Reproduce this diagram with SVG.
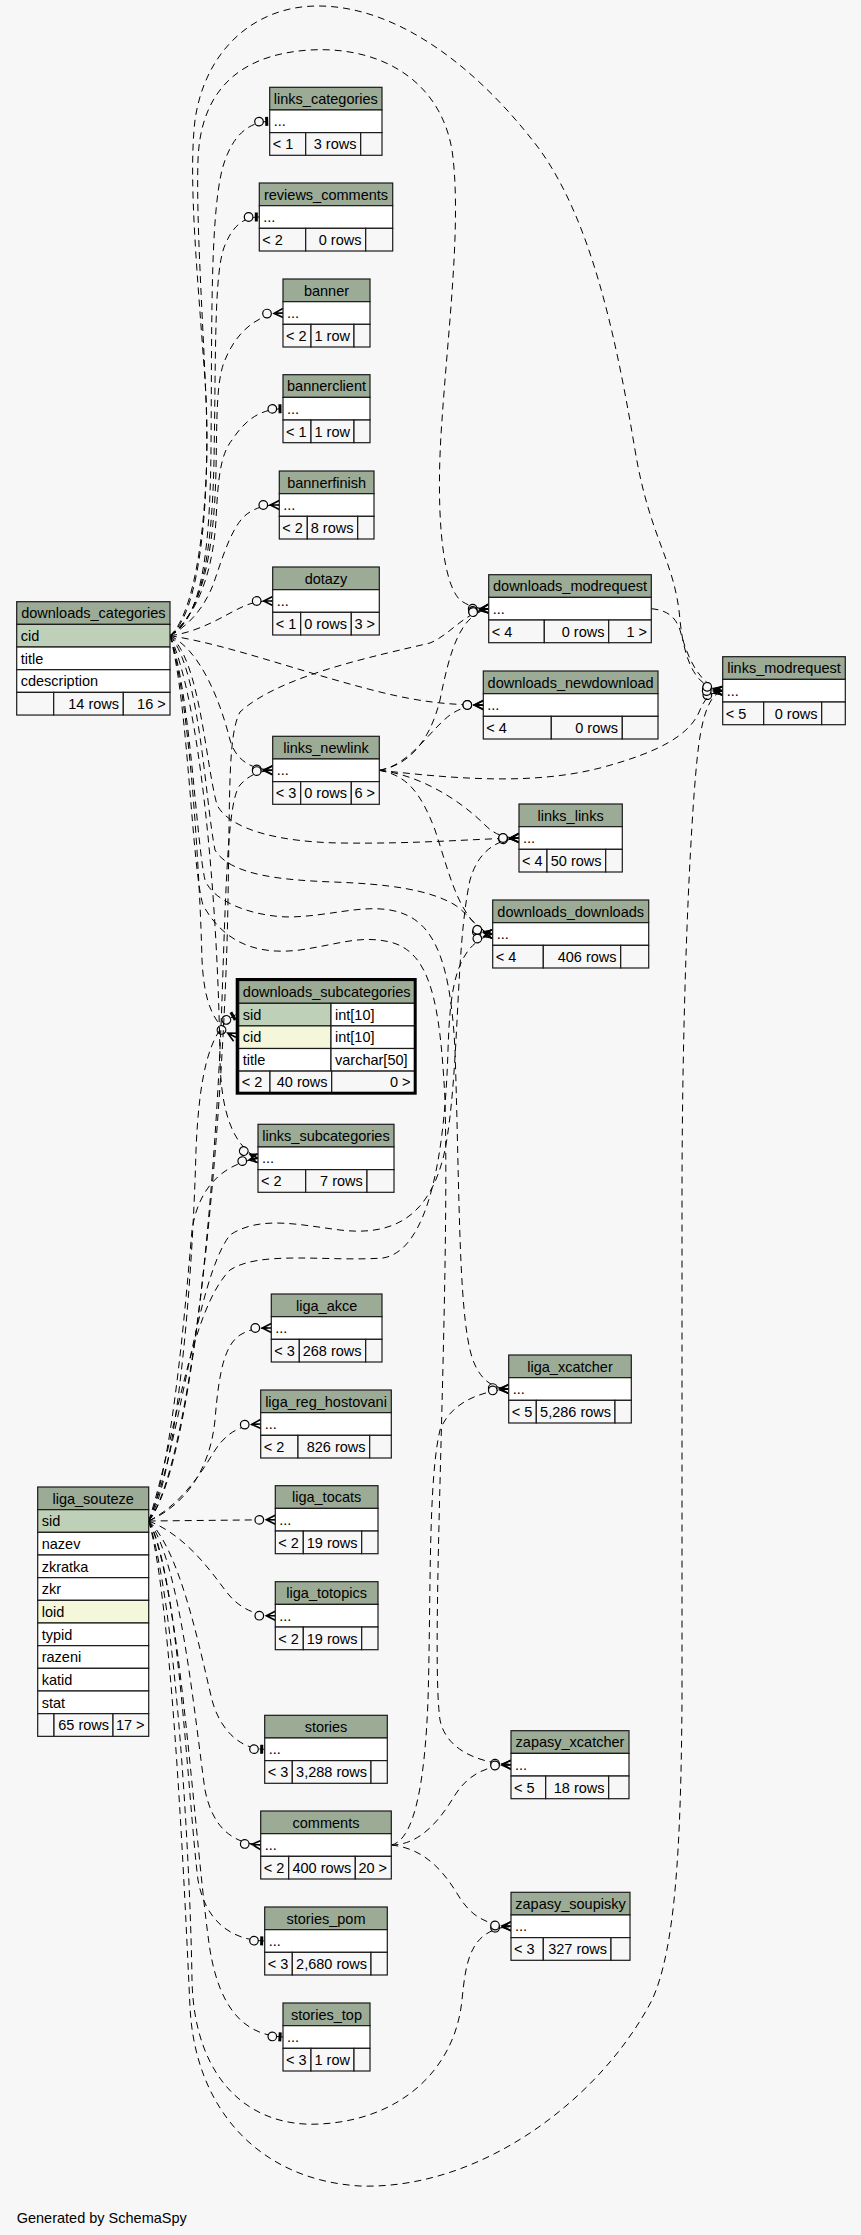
<svg xmlns="http://www.w3.org/2000/svg" width="861" height="2235" viewBox="0 0 861 2235">
<style>
text{font-family:"Liberation Sans",Arial,Helvetica,sans-serif;font-size:14.5px;fill:#000}
.m{text-anchor:middle}.e{text-anchor:end}
.h{fill:#9bab96;stroke:#1a1a1a;stroke-width:1.2}
.r{fill:#fff;stroke:#1a1a1a;stroke-width:1.2}
.k{fill:#bed1b8;stroke:#1a1a1a;stroke-width:1.2}
.fk{fill:#f4f7da;stroke:#1a1a1a;stroke-width:1.2}
.ft{fill:#f7f7f7;stroke:#1a1a1a;stroke-width:1.2}
.ed{fill:none;stroke:#000;stroke-width:1;stroke-dasharray:7,5}
.cr{marker-end:url(#crow)}.te{marker-end:url(#tee)}
</style>
<defs>
<marker id="crow" markerUnits="userSpaceOnUse" viewBox="-22 -7 23 14" refX="0" refY="0" markerWidth="23" markerHeight="14" orient="auto">
<circle cx="-16" cy="0" r="4.3" fill="#f7f7f7" stroke="#000" stroke-width="1.2"/>
<path d="M0,-4.5 L-9,0 L0,4.5 M-9,0 H0" fill="none" stroke="#000" stroke-width="1.6"/>
</marker>
<marker id="tee" markerUnits="userSpaceOnUse" viewBox="-16 -7 17 14" refX="0" refY="0" markerWidth="17" markerHeight="14" orient="auto">
<circle cx="-10.7" cy="0" r="4.3" fill="#f7f7f7" stroke="#000" stroke-width="1.2"/>
<rect x="-4.5" y="-4.5" width="3" height="9" fill="#000"/>
</marker>
</defs>
<rect width="861" height="2235" fill="#f7f7f7"/>

<g id="edges">
<!-- from downloads_categories.cid -->
<path class="ed te" d="M170,635.7 C200,620 210,560 211,450 C212,330 210,220 222,170 C230,140 245,122 269.7,121.3"/>
<path class="ed te" d="M170,635.7 C200,618 212,560 214,460 C216,350 214,270 225,245 C232,228 242,217 259.3,217"/>
<path class="ed cr" d="M170,635.7 C200,615 214,560 216,470 C217,420 216,380 225,360 C235,335 255,314 283,313"/>
<path class="ed te" d="M170,635.7 C198,615 213,570 216,520 C218,480 220,455 232,440 C245,420 260,409 283,408.7"/>
<path class="ed cr" d="M170,635.7 C195,622 207,600 213,585 C222,560 232,522 250,512 C258,507 266,505 279.3,505"/>
<path class="ed cr" d="M170,635.7 C200,632 225,615 240,608 C250,603 258,601 272.7,601"/>
<path class="ed cr" d="M170,635.7 C200,615 210,500 206,400 C203,320 196,220 198,160 C200,100 230,55 310,50 C380,46 440,80 452,150 C462,220 448,330 442,420 C436,500 440,580 460,600 C470,607 478,608.7 488.7,608.7"/>
<path class="ed cr" d="M170,635.7 C200,610 212,480 205,380 C198,280 188,180 195,120 C205,50 255,5 320,6 C400,7 480,70 540,150 C590,220 615,330 635,450 C650,540 675,560 680,620 C684,660 695,688 722.7,690.7"/>
<path class="ed cr" d="M170,635.7 C230,645 300,672 380,692 C420,702 450,705 483.3,705"/>
<path class="ed cr" d="M170,635.7 C200,650 220,700 230,740 C236,760 250,769 272.7,770.3"/>
<path class="ed cr" d="M170,635.7 C200,660 205,760 217,805 C230,830 280,842 340,843 C420,844 470,839 519,838"/>
<path class="ed cr" d="M170,635.7 C200,670 205,800 215,850 C230,875 280,880 333,882 C390,884 430,890 455,905 C470,915 478,932 492.7,934"/>
<path class="ed cr" d="M170,635.7 C190,690 196,840 205,880 C215,905 260,917 290,917 C330,916 360,905 390,910 C430,917 450,950 455,1050 C460,1200 458,1330 475,1365 C482,1380 492,1388 508.7,1389"/>
<path class="ed cr" d="M170,635.7 C188,700 192,870 203,905 C225,945 260,955 300,950 C340,944 360,935 390,942 C430,952 440,1000 445,1100 C450,1300 430,1650 440,1720 C445,1745 470,1762 511,1764.7"/>
<path class="ed cr" d="M170,635.7 C190,700 200,880 202,960 C204,1000 212,1025 235.7,1037.3"/>
<path class="ed cr" d="M170,635.7 C200,700 218,900 220,1060 C221,1110 232,1145 258,1158.3"/>
<!-- from liga_souteze.sid -->
<path class="ed cr" d="M148.7,1521 C185,1505 210,1470 215,1420 C219,1370 225,1345 240,1335 C250,1329 258,1328 271.3,1328"/>
<path class="ed cr" d="M148.7,1521 C180,1505 200,1475 212,1455 C222,1438 235,1425 260.7,1424"/>
<path class="ed cr" d="M148.7,1521 L275.3,1519.7"/>
<path class="ed cr" d="M148.7,1521 C185,1535 210,1570 225,1590 C238,1608 255,1615.7 275.3,1615.7"/>
<path class="ed te" d="M148.7,1521 C180,1550 200,1650 212,1700 C220,1730 240,1749 264.7,1749.3"/>
<path class="ed cr" d="M148.7,1521 C180,1560 195,1720 205,1790 C212,1825 230,1843 260.7,1845"/>
<path class="ed te" d="M148.7,1521 C178,1570 188,1800 198,1880 C205,1920 230,1940 264.7,1941"/>
<path class="ed te" d="M148.7,1521 C180,1580 195,1850 210,1950 C220,2010 245,2035 283,2037"/>
<path class="ed te" d="M148.7,1521 C175,1480 192,1300 196,1150 C199,1080 208,1030 235.7,1014.7"/>
<path class="ed cr" d="M148.7,1521 C172,1470 186,1300 192,1230 C198,1190 220,1165 258,1158.3"/>
<path class="ed cr" d="M148.7,1521 C190,1470 215,1200 222,1000 C226,880 228,800 240,785 C248,776 258,771 272.7,770.3"/>
<path class="ed cr" d="M148.7,1521 C195,1460 225,1100 228,900 C230,790 228,735 240,712 C280,675 380,655 430,643 C450,635 465,612 488.7,608.7"/>
<path class="ed cr" d="M148.7,1521 C180,1450 195,1280 230,1235 C260,1215 300,1225 340,1230 C390,1236 430,1220 445,1150 C460,1070 455,950 470,880 C478,852 495,840 519,838"/>
<path class="ed cr" d="M148.7,1521 C175,1440 190,1310 230,1270 C260,1250 330,1262 383,1258 C430,1250 445,1150 448,1050 C450,990 455,945 492.7,934"/>
<path class="ed cr" d="M148.7,1521 C175,1600 190,1850 192,1980 C194,2080 250,2128 320,2124 C400,2120 455,2070 462,2000 C466,1960 470,1930 511,1926.3"/>
<path class="ed cr" d="M148.7,1521 C172,1600 185,1900 190,2007 C195,2110 260,2180 360,2186 C480,2190 600,2100 652,2000 C675,1950 681,1850 682,1700 L682,1200 C682,1000 690,830 697,760 C701,720 708,695 722.7,690.7"/>
<!-- from links_newlink -->
<path class="ed cr" d="M379.3,770.3 C410,765 430,740 440,700 C450,650 460,615 488.7,608.7"/>
<path class="ed cr" d="M379.3,770.3 C410,765 430,730 450,715 C460,708 470,705 483.3,705"/>
<path class="ed cr" d="M379.3,770.3 C450,778 530,786 600,768 C660,752 690,735 700,710 C705,698 712,691 722.7,690.7"/>
<path class="ed cr" d="M379.3,770.3 C420,775 460,800 485,825 C495,835 505,838 519,838"/>
<path class="ed cr" d="M379.3,770.3 C405,775 420,790 435,830 C450,875 460,925 492.7,934"/>
<!-- from downloads_modrequest -->
<path class="ed cr" d="M651.3,608.7 C665,610 675,615 680,630 C688,660 700,685 722.7,690.7"/>
<!-- from comments -->
<path class="ed cr" d="M391.3,1845 C420,1845 440,1820 455,1795 C468,1775 485,1766 511,1764.7"/>
<path class="ed cr" d="M391.3,1845 C420,1848 440,1865 458,1895 C470,1915 485,1925 511,1926.3"/>
<path class="ed cr" d="M391.3,1845 C415,1840 425,1780 428,1700 C431,1600 428,1480 440,1430 C450,1405 475,1392 508.7,1389"/>
</g>

<g id="links_categories">
<rect class="h" x="269.7" y="87.3" width="112.3" height="22.67"/><text class="m" x="325.85" y="103.8">links_categories</text>
<rect class="r" x="269.7" y="109.97" width="112.3" height="22.67"/><text x="273.7" y="126.47">...</text>
<rect class="ft" x="269.7" y="132.63" width="36" height="22.67"/><rect class="ft" x="305.7" y="132.63" width="55" height="22.67"/><rect class="ft" x="360.7" y="132.63" width="21.3" height="22.67"/>
<text x="272.7" y="149.13">&lt; 1</text><text class="e" x="356.5" y="149.13">3 rows</text>
</g>
<g id="reviews_comments">
<rect class="h" x="259.3" y="183" width="133.4" height="22.67"/><text class="m" x="326" y="199.5">reviews_comments</text>
<rect class="r" x="259.3" y="205.67" width="133.4" height="22.67"/><text x="263.3" y="222.17">...</text>
<rect class="ft" x="259.3" y="228.33" width="46.4" height="22.67"/><rect class="ft" x="305.7" y="228.33" width="60" height="22.67"/><rect class="ft" x="365.7" y="228.33" width="27" height="22.67"/>
<text x="262.3" y="244.83">&lt; 2</text><text class="e" x="361.5" y="244.83">0 rows</text>
</g>
<g id="banner">
<rect class="h" x="283" y="279" width="87" height="22.67"/><text class="m" x="326.5" y="295.5">banner</text>
<rect class="r" x="283" y="301.67" width="87" height="22.67"/><text x="287" y="318.17">...</text>
<rect class="ft" x="283" y="324.33" width="28" height="22.67"/><rect class="ft" x="311" y="324.33" width="43" height="22.67"/><rect class="ft" x="354" y="324.33" width="16" height="22.67"/>
<text x="286" y="340.83">&lt; 2</text><text class="e" x="350" y="340.83">1 row</text>
</g>
<g id="bannerclient">
<rect class="h" x="283" y="374.7" width="87" height="22.67"/><text class="m" x="326.5" y="391.2">bannerclient</text>
<rect class="r" x="283" y="397.37" width="87" height="22.67"/><text x="287" y="413.87">...</text>
<rect class="ft" x="283" y="420.03" width="28" height="22.67"/><rect class="ft" x="311" y="420.03" width="43" height="22.67"/><rect class="ft" x="354" y="420.03" width="16" height="22.67"/>
<text x="286" y="436.53">&lt; 1</text><text class="e" x="350" y="436.53">1 row</text>
</g>
<g id="bannerfinish">
<rect class="h" x="279.3" y="471" width="94.7" height="22.67"/><text class="m" x="326.65" y="487.5">bannerfinish</text>
<rect class="r" x="279.3" y="493.67" width="94.7" height="22.67"/><text x="283.3" y="510.17">...</text>
<rect class="ft" x="279.3" y="516.33" width="28" height="22.67"/><rect class="ft" x="307.3" y="516.33" width="50.4" height="22.67"/><rect class="ft" x="357.7" y="516.33" width="16.3" height="22.67"/>
<text x="282.3" y="532.83">&lt; 2</text><text class="e" x="353.5" y="532.83">8 rows</text>
</g>
<g id="dotazy">
<rect class="h" x="272.7" y="567" width="106.6" height="22.67"/><text class="m" x="326" y="583.5">dotazy</text>
<rect class="r" x="272.7" y="589.67" width="106.6" height="22.67"/><text x="276.7" y="606.17">...</text>
<rect class="ft" x="272.7" y="612.33" width="28" height="22.67"/><rect class="ft" x="300.7" y="612.33" width="50.6" height="22.67"/><rect class="ft" x="351.3" y="612.33" width="28" height="22.67"/>
<text x="275.7" y="628.83">&lt; 1</text><text class="e" x="347" y="628.83">0 rows</text><text class="e" x="375" y="628.83">3 &gt;</text>
</g>
<g id="downloads_categories">
<rect class="h" x="16.7" y="601.7" width="153.3" height="22.67"/><text class="m" x="93.35" y="618.2">downloads_categories</text>
<rect class="k" x="16.7" y="624.37" width="153.3" height="22.67"/><text x="20.7" y="640.87">cid</text>
<rect class="r" x="16.7" y="647.03" width="153.3" height="22.67"/><text x="20.7" y="663.53">title</text>
<rect class="r" x="16.7" y="669.7" width="153.3" height="22.67"/><text x="20.7" y="686.2">cdescription</text>
<rect class="ft" x="16.7" y="692.37" width="37" height="22.67"/><rect class="ft" x="53.7" y="692.37" width="69.6" height="22.67"/><rect class="ft" x="123.3" y="692.37" width="46.7" height="22.67"/>
<text class="e" x="119" y="708.87">14 rows</text><text class="e" x="165.7" y="708.87">16 &gt;</text>
</g>
<g id="links_newlink">
<rect class="h" x="272.7" y="736.3" width="106.6" height="22.67"/><text class="m" x="326" y="752.8">links_newlink</text>
<rect class="r" x="272.7" y="758.97" width="106.6" height="22.67"/><text x="276.7" y="775.47">...</text>
<rect class="ft" x="272.7" y="781.63" width="28" height="22.67"/><rect class="ft" x="300.7" y="781.63" width="50.6" height="22.67"/><rect class="ft" x="351.3" y="781.63" width="28" height="22.67"/>
<text x="275.7" y="798.13">&lt; 3</text><text class="e" x="347" y="798.13">0 rows</text><text class="e" x="375" y="798.13">6 &gt;</text>
</g>
<g id="downloads_modrequest">
<rect class="h" x="488.7" y="574.7" width="162.6" height="22.67"/><text class="m" x="570" y="591.2">downloads_modrequest</text>
<rect class="r" x="488.7" y="597.37" width="162.6" height="22.67"/><text x="492.7" y="613.87">...</text>
<rect class="ft" x="488.7" y="620.03" width="55.6" height="22.67"/><rect class="ft" x="544.3" y="620.03" width="64.4" height="22.67"/><rect class="ft" x="608.7" y="620.03" width="42.6" height="22.67"/>
<text x="491.7" y="636.53">&lt; 4</text><text class="e" x="604.5" y="636.53">0 rows</text><text class="e" x="647" y="636.53">1 &gt;</text>
</g>
<g id="downloads_newdownload">
<rect class="h" x="483.3" y="671" width="174.7" height="22.67"/><text class="m" x="570.65" y="687.5">downloads_newdownload</text>
<rect class="r" x="483.3" y="693.67" width="174.7" height="22.67"/><text x="487.3" y="710.17">...</text>
<rect class="ft" x="483.3" y="716.33" width="68" height="22.67"/><rect class="ft" x="551.3" y="716.33" width="71" height="22.67"/><rect class="ft" x="622.3" y="716.33" width="35.7" height="22.67"/>
<text x="486.3" y="732.83">&lt; 4</text><text class="e" x="618" y="732.83">0 rows</text>
</g>
<g id="links_modrequest">
<rect class="h" x="722.7" y="656.7" width="122.6" height="22.67"/><text class="m" x="784" y="673.2">links_modrequest</text>
<rect class="r" x="722.7" y="679.37" width="122.6" height="22.67"/><text x="726.7" y="695.87">...</text>
<rect class="ft" x="722.7" y="702.03" width="41" height="22.67"/><rect class="ft" x="763.7" y="702.03" width="58" height="22.67"/><rect class="ft" x="821.7" y="702.03" width="23.6" height="22.67"/>
<text x="725.7" y="718.53">&lt; 5</text><text class="e" x="817.5" y="718.53">0 rows</text>
</g>
<g id="links_links">
<rect class="h" x="519" y="804" width="103.3" height="22.67"/><text class="m" x="570.65" y="820.5">links_links</text>
<rect class="r" x="519" y="826.67" width="103.3" height="22.67"/><text x="523" y="843.17">...</text>
<rect class="ft" x="519" y="849.33" width="28" height="22.67"/><rect class="ft" x="547" y="849.33" width="58.7" height="22.67"/><rect class="ft" x="605.7" y="849.33" width="16.6" height="22.67"/>
<text x="522" y="865.83">&lt; 4</text><text class="e" x="601.5" y="865.83">50 rows</text>
</g>
<g id="downloads_downloads">
<rect class="h" x="492.7" y="900" width="156" height="22.67"/><text class="m" x="570.7" y="916.5">downloads_downloads</text>
<rect class="r" x="492.7" y="922.67" width="156" height="22.67"/><text x="496.7" y="939.17">...</text>
<rect class="ft" x="492.7" y="945.33" width="50.6" height="22.67"/><rect class="ft" x="543.3" y="945.33" width="77.4" height="22.67"/><rect class="ft" x="620.7" y="945.33" width="28" height="22.67"/>
<text x="495.7" y="961.83">&lt; 4</text><text class="e" x="616.5" y="961.83">406 rows</text>
</g>
<g id="downloads_subcategories">
<rect class="h" x="238.7" y="980.5" width="176" height="22.8"/><text class="m" x="326.7" y="997">downloads_subcategories</text>
<rect class="k" x="238.7" y="1003.3" width="92.3" height="22.6"/><rect class="r" x="331" y="1003.3" width="83.7" height="22.6"/>
<text x="242.7" y="1019.8">sid</text><text x="335" y="1019.8">int[10]</text>
<rect class="fk" x="238.7" y="1025.9" width="92.3" height="22.6"/><rect class="r" x="331" y="1025.9" width="83.7" height="22.6"/>
<text x="242.7" y="1042.4">cid</text><text x="335" y="1042.4">int[10]</text>
<rect class="r" x="238.7" y="1048.5" width="92.3" height="22.6"/><rect class="r" x="331" y="1048.5" width="83.7" height="22.6"/>
<text x="242.7" y="1065">title</text><text x="335" y="1065">varchar[50]</text>
<rect class="ft" x="238.7" y="1071.1" width="31.3" height="22.1"/><rect class="ft" x="270" y="1071.1" width="61.7" height="22.1"/><rect class="ft" x="331.7" y="1071.1" width="83" height="22.1"/>
<text x="241.7" y="1087.4">&lt; 2</text><text class="e" x="327.5" y="1087.4">40 rows</text><text class="e" x="410.5" y="1087.4">0 &gt;</text>
<rect x="237.2" y="979.5" width="178" height="113.7" fill="none" stroke="#000" stroke-width="3"/>
</g>
<g id="links_subcategories">
<rect class="h" x="258" y="1124.3" width="136" height="22.67"/><text class="m" x="326" y="1140.8">links_subcategories</text>
<rect class="r" x="258" y="1146.97" width="136" height="22.67"/><text x="262" y="1163.47">...</text>
<rect class="ft" x="258" y="1169.63" width="47.7" height="22.67"/><rect class="ft" x="305.7" y="1169.63" width="61.3" height="22.67"/><rect class="ft" x="367" y="1169.63" width="27" height="22.67"/>
<text x="261" y="1186.13">&lt; 2</text><text class="e" x="362.8" y="1186.13">7 rows</text>
</g>
<g id="liga_akce">
<rect class="h" x="271.3" y="1294" width="110.7" height="22.67"/><text class="m" x="326.65" y="1310.5">liga_akce</text>
<rect class="r" x="271.3" y="1316.67" width="110.7" height="22.67"/><text x="275.3" y="1333.17">...</text>
<rect class="ft" x="271.3" y="1339.33" width="28" height="22.67"/><rect class="ft" x="299.3" y="1339.33" width="66.4" height="22.67"/><rect class="ft" x="365.7" y="1339.33" width="16.3" height="22.67"/>
<text x="274.3" y="1355.83">&lt; 3</text><text class="e" x="361.5" y="1355.83">268 rows</text>
</g>
<g id="liga_reg_hostovani">
<rect class="h" x="260.7" y="1390" width="130.6" height="22.67"/><text class="m" x="326" y="1406.5">liga_reg_hostovani</text>
<rect class="r" x="260.7" y="1412.67" width="130.6" height="22.67"/><text x="264.7" y="1429.17">...</text>
<rect class="ft" x="260.7" y="1435.33" width="37.3" height="22.67"/><rect class="ft" x="298" y="1435.33" width="71.7" height="22.67"/><rect class="ft" x="369.7" y="1435.33" width="21.6" height="22.67"/>
<text x="263.7" y="1451.83">&lt; 2</text><text class="e" x="365.5" y="1451.83">826 rows</text>
</g>
<g id="liga_souteze">
<rect class="h" x="37.7" y="1487" width="111" height="22.67"/><text class="m" x="93.2" y="1503.5">liga_souteze</text>
<rect class="k" x="37.7" y="1509.67" width="111" height="22.67"/><text x="41.7" y="1526.17">sid</text>
<rect class="r" x="37.7" y="1532.33" width="111" height="22.67"/><text x="41.7" y="1548.83">nazev</text>
<rect class="r" x="37.7" y="1555" width="111" height="22.67"/><text x="41.7" y="1571.5">zkratka</text>
<rect class="r" x="37.7" y="1577.67" width="111" height="22.67"/><text x="41.7" y="1594.17">zkr</text>
<rect class="fk" x="37.7" y="1600.33" width="111" height="22.67"/><text x="41.7" y="1616.83">loid</text>
<rect class="r" x="37.7" y="1623" width="111" height="22.67"/><text x="41.7" y="1639.5">typid</text>
<rect class="r" x="37.7" y="1645.67" width="111" height="22.67"/><text x="41.7" y="1662.17">razeni</text>
<rect class="r" x="37.7" y="1668.33" width="111" height="22.67"/><text x="41.7" y="1684.83">katid</text>
<rect class="r" x="37.7" y="1691" width="111" height="22.67"/><text x="41.7" y="1707.5">stat</text>
<rect class="ft" x="37.7" y="1713.67" width="16.3" height="22.67"/><rect class="ft" x="54" y="1713.67" width="59" height="22.67"/><rect class="ft" x="113" y="1713.67" width="35.7" height="22.67"/>
<text class="e" x="109" y="1730.17">65 rows</text><text class="e" x="144.5" y="1730.17">17 &gt;</text>
</g>
<g id="liga_tocats">
<rect class="h" x="275.3" y="1485.7" width="102.7" height="22.67"/><text class="m" x="326.65" y="1502.2">liga_tocats</text>
<rect class="r" x="275.3" y="1508.37" width="102.7" height="22.67"/><text x="279.3" y="1524.87">...</text>
<rect class="ft" x="275.3" y="1531.03" width="28" height="22.67"/><rect class="ft" x="303.3" y="1531.03" width="58.4" height="22.67"/><rect class="ft" x="361.7" y="1531.03" width="16.3" height="22.67"/>
<text x="278.3" y="1547.53">&lt; 2</text><text class="e" x="357.5" y="1547.53">19 rows</text>
</g>
<g id="liga_totopics">
<rect class="h" x="275.3" y="1581.7" width="102.7" height="22.67"/><text class="m" x="326.65" y="1598.2">liga_totopics</text>
<rect class="r" x="275.3" y="1604.37" width="102.7" height="22.67"/><text x="279.3" y="1620.87">...</text>
<rect class="ft" x="275.3" y="1627.03" width="28" height="22.67"/><rect class="ft" x="303.3" y="1627.03" width="58.4" height="22.67"/><rect class="ft" x="361.7" y="1627.03" width="16.3" height="22.67"/>
<text x="278.3" y="1643.53">&lt; 2</text><text class="e" x="357.5" y="1643.53">19 rows</text>
</g>
<g id="liga_xcatcher">
<rect class="h" x="508.7" y="1355" width="122.6" height="22.67"/><text class="m" x="570" y="1371.5">liga_xcatcher</text>
<rect class="r" x="508.7" y="1377.67" width="122.6" height="22.67"/><text x="512.7" y="1394.17">...</text>
<rect class="ft" x="508.7" y="1400.33" width="27.6" height="22.67"/><rect class="ft" x="536.3" y="1400.33" width="78.7" height="22.67"/><rect class="ft" x="615" y="1400.33" width="16.3" height="22.67"/>
<text x="511.7" y="1416.83">&lt; 5</text><text class="e" x="611" y="1416.83">5,286 rows</text>
</g>
<g id="stories">
<rect class="h" x="264.7" y="1715.3" width="122.6" height="22.67"/><text class="m" x="326" y="1731.8">stories</text>
<rect class="r" x="264.7" y="1737.97" width="122.6" height="22.67"/><text x="268.7" y="1754.47">...</text>
<rect class="ft" x="264.7" y="1760.63" width="27.6" height="22.67"/><rect class="ft" x="292.3" y="1760.63" width="78.7" height="22.67"/><rect class="ft" x="371" y="1760.63" width="16.3" height="22.67"/>
<text x="267.7" y="1777.13">&lt; 3</text><text class="e" x="367" y="1777.13">3,288 rows</text>
</g>
<g id="comments">
<rect class="h" x="260.7" y="1811" width="130.6" height="22.67"/><text class="m" x="326" y="1827.5">comments</text>
<rect class="r" x="260.7" y="1833.67" width="130.6" height="22.67"/><text x="264.7" y="1850.17">...</text>
<rect class="ft" x="260.7" y="1856.33" width="28" height="22.67"/><rect class="ft" x="288.7" y="1856.33" width="66.6" height="22.67"/><rect class="ft" x="355.3" y="1856.33" width="36" height="22.67"/>
<text x="263.7" y="1872.83">&lt; 2</text><text class="e" x="351.3" y="1872.83">400 rows</text><text class="e" x="387" y="1872.83">20 &gt;</text>
</g>
<g id="stories_pom">
<rect class="h" x="264.7" y="1907" width="122.6" height="22.67"/><text class="m" x="326" y="1923.5">stories_pom</text>
<rect class="r" x="264.7" y="1929.67" width="122.6" height="22.67"/><text x="268.7" y="1946.17">...</text>
<rect class="ft" x="264.7" y="1952.33" width="27.6" height="22.67"/><rect class="ft" x="292.3" y="1952.33" width="78.7" height="22.67"/><rect class="ft" x="371" y="1952.33" width="16.3" height="22.67"/>
<text x="267.7" y="1968.83">&lt; 3</text><text class="e" x="367" y="1968.83">2,680 rows</text>
</g>
<g id="stories_top">
<rect class="h" x="283" y="2003" width="87" height="22.67"/><text class="m" x="326.5" y="2019.5">stories_top</text>
<rect class="r" x="283" y="2025.67" width="87" height="22.67"/><text x="287" y="2042.17">...</text>
<rect class="ft" x="283" y="2048.33" width="28" height="22.67"/><rect class="ft" x="311" y="2048.33" width="43" height="22.67"/><rect class="ft" x="354" y="2048.33" width="16" height="22.67"/>
<text x="286" y="2064.83">&lt; 3</text><text class="e" x="350" y="2064.83">1 row</text>
</g>
<g id="zapasy_xcatcher">
<rect class="h" x="511" y="1730.7" width="118" height="22.67"/><text class="m" x="570" y="1747.2">zapasy_xcatcher</text>
<rect class="r" x="511" y="1753.37" width="118" height="22.67"/><text x="515" y="1769.87">...</text>
<rect class="ft" x="511" y="1776.03" width="34.7" height="22.67"/><rect class="ft" x="545.7" y="1776.03" width="63" height="22.67"/><rect class="ft" x="608.7" y="1776.03" width="20.3" height="22.67"/>
<text x="514" y="1792.53">&lt; 5</text><text class="e" x="604.5" y="1792.53">18 rows</text>
</g>
<g id="zapasy_soupisky">
<rect class="h" x="511" y="1892.3" width="119" height="22.67"/><text class="m" x="570.5" y="1908.8">zapasy_soupisky</text>
<rect class="r" x="511" y="1914.97" width="119" height="22.67"/><text x="515" y="1931.47">...</text>
<rect class="ft" x="511" y="1937.63" width="32.3" height="22.67"/><rect class="ft" x="543.3" y="1937.63" width="67.7" height="22.67"/><rect class="ft" x="611" y="1937.63" width="19" height="22.67"/>
<text x="514" y="1954.13">&lt; 3</text><text class="e" x="607" y="1954.13">327 rows</text>
</g>
<text x="16.7" y="2222.7">Generated by SchemaSpy</text>
</svg>
